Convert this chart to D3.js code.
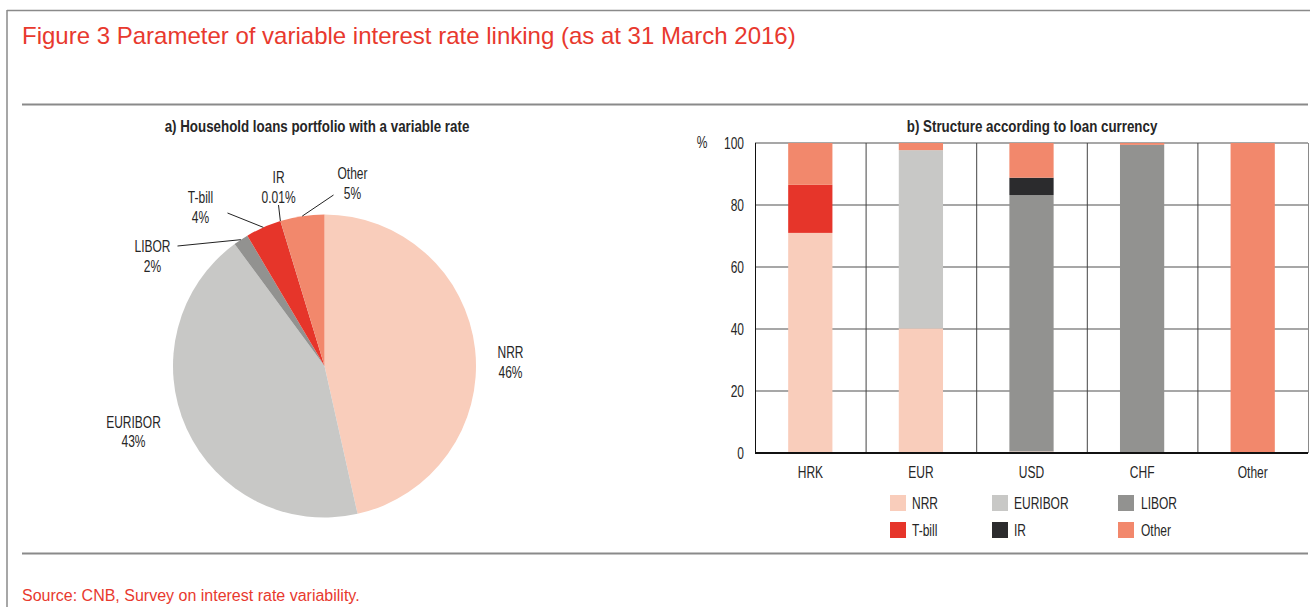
<!DOCTYPE html>
<html>
<head>
<meta charset="utf-8">
<script src="https://cdnjs.cloudflare.com/ajax/libs/d3/7.8.5/d3.min.js"></script>
<style>
    body { margin: 0; background: #fff; }
    /* condensed look: Arial-metric font squeezed horizontally around its anchor */
    .cond {
        font-family: "Liberation Sans", Arial, sans-serif;
        font-size: 16px;
        transform-box: fill-box;
        transform: scaleX(0.75);
        transform-origin: center;
    }
    .cond.bold { font-weight: bold; transform: scaleX(0.835); }
    .cond.end { transform-origin: right center; }
    .cond.start { transform-origin: left center; }
</style>
</head>
<body>
<div id="figure"></div>
<script>
// Pie data: household loans portfolio with a variable rate
const pieCategories = ["NRR", "EURIBOR", "LIBOR", "T-bill", "IR", "Other"];
const pieShares = [46.5, 43.4, 1.6, 3.8, 0.01, 4.7];
const pieShareLabels = ["46%", "43%", "2%", "4%", "0.01%", "5%"];

// Bar data: structure according to loan currency (%)
const currencies = ["HRK", "EUR", "USD", "CHF", "Other"];
const seriesNames = ["NRR", "EURIBOR", "LIBOR", "T-bill", "IR", "Other"];
const nrrValues = [71.0, 40.2, 0.5, 0, 0];
const euriborValues = [0, 57.5, 0, 0, 0];
const liborValues = [0, 0, 82.7, 99.4, 0];
const tbillValues = [15.5, 0, 0, 0, 0];
const irValues = [0, 0, 5.6, 0, 0];
const otherValues = [13.5, 2.3, 11.2, 0.6, 100];
const yTicks = [0, 20, 40, 60, 80, 100];

const colors = {
    "NRR": "#f9cdbb",
    "EURIBOR": "#c8c8c6",
    "LIBOR": "#929290",
    "T-bill": "#e6352a",
    "IR": "#2b2b2d",
    "Other": "#f2886c",
};
const red = "#e8392e";
const textColor = "#262626";

let width = 1310;
let height = 607;

let svg = d3
    .select("#figure")
    .append("svg")
    .attr("width", width)
    .attr("height", height);

// Frame and separator rules
svg.append("line")
    .attr("x1", 7).attr("x2", width)
    .attr("y1", 10.5).attr("y2", 10.5)
    .attr("stroke", "#8a8a8a").attr("stroke-width", 1.5);
svg.append("line")
    .attr("x1", 7).attr("x2", 7)
    .attr("y1", 10).attr("y2", height)
    .attr("stroke", "#8a8a8a").attr("stroke-width", 1.5);
[104.5, 553.5].forEach((y) => {
    svg.append("line")
        .attr("x1", 22).attr("x2", 1308)
        .attr("y1", y).attr("y2", y)
        .attr("stroke", "#8a8a8a").attr("stroke-width", 2);
});

svg.append("text")
    .attr("x", 22)
    .attr("y", 44)
    .attr("fill", red)
    .style("font-family", "'Liberation Sans', Arial, sans-serif")
    .style("font-size", "24px")
    .text("Figure 3 Parameter of variable interest rate linking (as at 31 March 2016)");

svg.append("text")
    .attr("x", 22)
    .attr("y", 601)
    .attr("fill", red)
    .style("font-family", "'Liberation Sans', Arial, sans-serif")
    .style("font-size", "16px")
    .text("Source: CNB, Survey on interest rate variability.");

// ---------- a) pie ----------
const cx = 324.5, cy = 366, radius = 151.5;

svg.append("text")
    .attr("class", "cond bold")
    .attr("x", 317)
    .attr("y", 132)
    .attr("text-anchor", "middle")
    .attr("fill", textColor)
    .text("a) Household loans portfolio with a variable rate");

let pieGroup = svg.append("g").attr("transform", "translate(" + cx + "," + cy + ")");

const pieData = pieCategories.map((c, i) => ({ name: c, value: pieShares[i], label: pieShareLabels[i] }));
let pie = d3.pie().sort(null).value((d) => d.value);
let arc = d3.arc().innerRadius(0).outerRadius(radius);
let arcs = pie(pieData);

pieGroup
    .selectAll("path")
    .data(arcs)
    .enter()
    .append("path")
    .attr("d", arc)
    .attr("fill", (d) => colors[d.data.name]);

// label placement relative to the pie centre; lead = start of leader line
const pieLabelLayout = {
    "NRR": { x: 186, y: -4 },
    "EURIBOR": { x: -191, y: 66 },
    "LIBOR": { x: -172, y: -110, lead: [-147, -120] },
    "T-bill": { x: -124, y: -159, lead: [-97, -153] },
    "IR": { x: -46, y: -179, lead: [-46, -161] },
    "Other": { x: 28, y: -183, lead: [9, -171] },
};

arcs.forEach((d) => {
    const lay = pieLabelLayout[d.data.name];
    if (lay.lead) {
        const mid = (d.startAngle + d.endAngle) / 2;
        pieGroup.append("line")
            .attr("x1", lay.lead[0]).attr("y1", lay.lead[1])
            .attr("x2", Math.sin(mid) * radius).attr("y2", -Math.cos(mid) * radius)
            .attr("stroke", "#222").attr("stroke-width", 1);
    }
    let t = pieGroup.append("text")
        .attr("class", "cond")
        .attr("text-anchor", "middle")
        .attr("fill", textColor);
    t.append("tspan").attr("x", lay.x).attr("y", lay.y - 4).text(d.data.name);
    t.append("tspan").attr("x", lay.x).attr("y", lay.y + 15.5).text(d.data.label);
});

// ---------- b) stacked bars ----------
const plot = { left: 755, right: 1308, top: 143, bottom: 453 };

svg.append("text")
    .attr("class", "cond bold")
    .attr("x", 1032)
    .attr("y", 132)
    .attr("text-anchor", "middle")
    .attr("fill", textColor)
    .text("b) Structure according to loan currency");

let x = d3.scaleBand().domain(currencies).range([plot.left, plot.right]).padding(0);
let y = d3.scaleLinear().domain([0, 100]).range([plot.bottom, plot.top]);
const barWidth = x.bandwidth() * 0.4;

// gridlines
svg.append("g")
    .selectAll("line")
    .data(yTicks.filter((t) => t > 0))
    .enter()
    .append("line")
    .attr("x1", plot.left).attr("x2", plot.right)
    .attr("y1", (d) => y(d)).attr("y2", (d) => y(d))
    .attr("stroke", "#8a8a8a").attr("stroke-width", 1.5);

// category separators
svg.append("g")
    .selectAll("line")
    .data(currencies.slice(1).concat(["end"]))
    .enter()
    .append("line")
    .attr("x1", (d) => (d === "end" ? plot.right : x(d)) + 0.5)
    .attr("x2", (d) => (d === "end" ? plot.right : x(d)) + 0.5)
    .attr("y1", plot.top).attr("y2", plot.bottom)
    .attr("stroke", (d) => (d === "end" ? "#8a8a8a" : "#444"))
    .attr("stroke-width", 1);

const barRows = currencies.map((c, i) => ({
    currency: c,
    "NRR": nrrValues[i],
    "EURIBOR": euriborValues[i],
    "LIBOR": liborValues[i],
    "T-bill": tbillValues[i],
    "IR": irValues[i],
    "Other": otherValues[i],
}));
let stacked = d3.stack().keys(seriesNames)(barRows);

svg.append("g")
    .selectAll("g")
    .data(stacked)
    .enter()
    .append("g")
    .attr("fill", (d) => colors[d.key])
    .selectAll("rect")
    .data((d) => d)
    .enter()
    .append("rect")
    .attr("x", (d) => x(d.data.currency) + (x.bandwidth() - barWidth) / 2)
    .attr("width", barWidth)
    .attr("y", (d) => y(d[1]))
    .attr("height", (d) => y(d[0]) - y(d[1]));

// axes lines
svg.append("line")
    .attr("x1", plot.left + 0.5).attr("x2", plot.left + 0.5)
    .attr("y1", plot.top).attr("y2", plot.bottom)
    .attr("stroke", "#111").attr("stroke-width", 1);
svg.append("line")
    .attr("x1", plot.left).attr("x2", plot.right)
    .attr("y1", plot.bottom).attr("y2", plot.bottom)
    .attr("stroke", "#111").attr("stroke-width", 2);

// y axis labels
let yAxis = svg.append("g")
    .attr("transform", "translate(" + (plot.left - 11) + ",0)")
    .call(d3.axisLeft(y).tickValues(yTicks).tickSize(0).tickPadding(0));
yAxis.select(".domain").remove();
yAxis.attr("font-size", null).attr("font-family", null);
yAxis.selectAll("text")
    .attr("class", "cond end")
    .attr("fill", textColor);

svg.append("text")
    .attr("class", "cond")
    .attr("x", 702)
    .attr("y", y(100) + 5.5)
    .attr("text-anchor", "middle")
    .attr("fill", textColor)
    .text("%");

// x axis labels
let xAxis = svg.append("g")
    .attr("transform", "translate(0," + plot.bottom + ")")
    .call(d3.axisBottom(x).tickSize(0).tickPadding(14));
xAxis.select(".domain").remove();
xAxis.attr("font-size", null).attr("font-family", null);
xAxis.selectAll("text")
    .attr("class", "cond")
    .attr("fill", textColor);

// legend
const legendOrder = ["NRR", "EURIBOR", "LIBOR", "T-bill", "IR", "Other"];
const legendCols = [890, 992, 1118];
const legendRows = [495, 522];
let legend = svg.append("g");
legendOrder.forEach((name, i) => {
    const lx = legendCols[i % 3];
    const ly = legendRows[Math.floor(i / 3)];
    legend.append("rect")
        .attr("x", lx).attr("y", ly)
        .attr("width", 16).attr("height", 16)
        .attr("fill", colors[name]);
    legend.append("text")
        .attr("class", "cond start")
        .attr("x", lx + (i % 3 === 2 ? 23 : 22))
        .attr("y", ly + 14)
        .attr("fill", textColor)
        .text(name);
});
</script>
</body>
</html>
